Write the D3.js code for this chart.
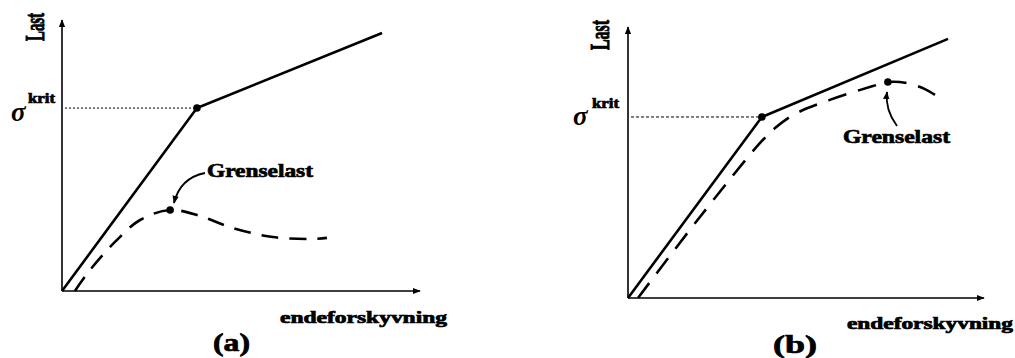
<!DOCTYPE html>
<html>
<head>
<meta charset="utf-8">
<script src="https://cdn.jsdelivr.net/npm/d3@7"></script>
<style>
  html, body { margin: 0; padding: 0; background: #ffffff; }
  svg { display: block; }
  text { font-family: "Liberation Serif", "DejaVu Serif", serif; fill: #000; }
  text.heavy { stroke: #000; stroke-width: 0.7px; }
</style>
</head>
<body>
<svg id="chart" width="1015" height="358"></svg>
<script>
// Load / end-displacement sketches, values in arbitrary units (0..10 on both axes)

// Panel (a): elastic-plastic reference and the actual (dashed) path
const solidA  = [[0, 0], [3.77, 6.75], [8.94, 9.52]];
const dashedA = [[0.36, 0], [0.78, 0.77], [1.48, 1.81], [2.18, 2.62], [3.02, 2.99],
                 [3.85, 2.77], [4.78, 2.32], [5.89, 1.99], [7.01, 1.92], [7.40, 1.96]];
const kritA   = [3.77, 6.75];
const peakA   = [3.02, 2.99];

// Panel (b)
const solidB  = [[0, 0], [3.76, 6.68], [8.99, 9.56]];
const dashedB = [[0.28, 0], [2.02, 2.99], [3.71, 5.72], [4.13, 6.27], [4.69, 6.79],
                 [5.67, 7.31], [6.88, 7.82], [7.30, 7.97], [7.84, 7.93], [8.34, 7.71], [8.76, 7.38]];
const kritB   = [3.76, 6.68];
const peakB   = [7.30, 7.97];

// Labels
const yLabel = "Last";
const xLabel = "endeforskyvning";
const sigmaSymbol = "σ";
const sigmaSup = "krit";
const peakLabel = "Grenselast";
const panelTags = ["(a)", "(b)"];

const svg = d3.select("#chart");

// arrowhead marker shared by axes and annotation arrows
const defs = svg.append("defs");
defs.append("marker")
  .attr("id", "head")
  .attr("viewBox", "0 0 10 10")
  .attr("refX", 9).attr("refY", 5)
  .attr("markerWidth", 8).attr("markerHeight", 8)
  .attr("markerUnits", "userSpaceOnUse")
  .attr("orient", "auto")
  .append("path").attr("d", "M0,1 L10,5 L0,9 Z").attr("fill", "#000");

const panels = [
  {
    solid: solidA, dashed: dashedA, krit: kritA, peak: peakA, tag: panelTags[0],
    xRange: [62, 420], yRange: [291, 20], dash: "17,11", dotDash: "2,2",
    lastPos: [36, 27], lastLen: 28,
    sigmaPos: [11, 121], supPos: [28, 103],
    xLabelPos: [280, 323], xLabelLen: 167,
    tagPos: [213, 351], tagLen: 37,
    peakLabelPos: [207, 177], peakLabelLen: 106,
    arrow: "M205,173 Q180,178 174,203"
  },
  {
    solid: solidB, dashed: dashedB, krit: kritB, peak: peakB, tag: panelTags[1],
    xRange: [628, 984], yRange: [298, 27], dash: "19,12", dotDash: "3,2",
    lastPos: [601, 35], lastLen: 30,
    sigmaPos: [573, 125], supPos: [592, 108],
    xLabelPos: [847, 329], xLabelLen: 166,
    tagPos: [773, 353], tagLen: 44,
    peakLabelPos: [843, 143], peakLabelLen: 107,
    arrow: "M897,126 Q885,110 887,92"
  }
];

panels.forEach(p => {
  const x = d3.scaleLinear().domain([0, 10]).range(p.xRange);
  const y = d3.scaleLinear().domain([0, 10]).range(p.yRange);
  const g = svg.append("g");

  // axes with arrow tips
  g.append("line")
    .attr("x1", x(0)).attr("y1", y(0)).attr("x2", x(10)).attr("y2", y(0))
    .attr("stroke", "#000").attr("stroke-width", 1.6).attr("marker-end", "url(#head)");
  g.append("line")
    .attr("x1", x(0)).attr("y1", y(0)).attr("x2", x(0)).attr("y2", y(10))
    .attr("stroke", "#000").attr("stroke-width", 1.6).attr("marker-end", "url(#head)");

  // dotted guide at the critical load
  g.append("line")
    .attr("x1", x(0) + 3).attr("x2", x(p.krit[0]))
    .attr("y1", y(p.krit[1])).attr("y2", y(p.krit[1]))
    .attr("stroke", "#000").attr("stroke-width", 1).attr("stroke-dasharray", p.dotDash);

  // bilinear reference path
  g.append("path")
    .datum(p.solid)
    .attr("d", d3.line().x(d => x(d[0])).y(d => y(d[1])))
    .attr("fill", "none").attr("stroke", "#000").attr("stroke-width", 2.6)
    .attr("stroke-linejoin", "round");

  // actual response, dashed
  g.append("path")
    .datum(p.dashed)
    .attr("d", d3.line().x(d => x(d[0])).y(d => y(d[1])).curve(d3.curveCatmullRom.alpha(0.5)))
    .attr("fill", "none").attr("stroke", "#000").attr("stroke-width", 2.6)
    .attr("stroke-dasharray", p.dash);

  // marker dots
  [p.krit, p.peak].forEach(pt => {
    g.append("circle").attr("cx", x(pt[0])).attr("cy", y(pt[1])).attr("r", 3.8).attr("fill", "#000");
  });

  // annotation arrow to the peak
  g.append("path")
    .attr("d", p.arrow)
    .attr("fill", "none").attr("stroke", "#000").attr("stroke-width", 1.8)
    .attr("marker-end", "url(#head)");

  // texts; the vertical axis title is widened across the axis with a scale
  g.append("text").attr("class", "heavy")
    .attr("transform", `translate(${p.lastPos[0] + 8},${p.lastPos[1]}) rotate(-90) scale(1,1.35)`)
    .attr("text-anchor", "middle")
    .attr("font-size", 20).attr("font-weight", "bold")
    .attr("textLength", p.lastLen).attr("lengthAdjust", "spacingAndGlyphs")
    .text(yLabel);

  g.append("text")
    .attr("x", p.sigmaPos[0]).attr("y", p.sigmaPos[1])
    .attr("font-size", 27).attr("font-style", "italic").attr("font-weight", "bold")
    .text(sigmaSymbol);

  g.append("text").attr("class", "heavy")
    .attr("x", p.supPos[0]).attr("y", p.supPos[1])
    .attr("font-size", 14).attr("font-weight", "bold")
    .attr("textLength", 27).attr("lengthAdjust", "spacingAndGlyphs")
    .text(sigmaSup);

  g.append("text").attr("class", "heavy")
    .attr("x", p.peakLabelPos[0]).attr("y", p.peakLabelPos[1])
    .attr("font-size", 19).attr("font-weight", "bold")
    .attr("textLength", p.peakLabelLen).attr("lengthAdjust", "spacingAndGlyphs")
    .text(peakLabel);

  g.append("text").attr("class", "heavy")
    .attr("x", p.xLabelPos[0]).attr("y", p.xLabelPos[1])
    .attr("font-size", 16).attr("font-weight", "bold")
    .attr("textLength", p.xLabelLen).attr("lengthAdjust", "spacingAndGlyphs")
    .text(xLabel);

  g.append("text").attr("class", "heavy")
    .attr("x", p.tagPos[0]).attr("y", p.tagPos[1])
    .attr("font-size", 25).attr("font-weight", "bold")
    .attr("textLength", p.tagLen).attr("lengthAdjust", "spacingAndGlyphs")
    .text(p.tag);
});
</script>
</body>
</html>
